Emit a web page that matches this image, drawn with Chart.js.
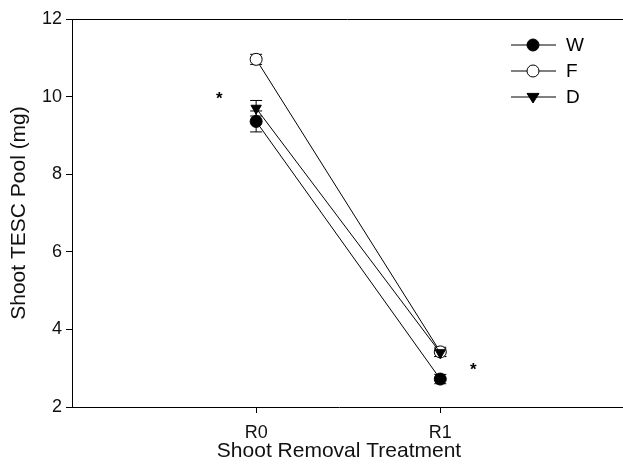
<!DOCTYPE html>
<html>
<head>
<meta charset="utf-8">
<script src="https://cdn.jsdelivr.net/npm/chart.js@4/dist/chart.umd.min.js"></script>
<style>
  html, body { margin: 0; padding: 0; background: #fff; }
  #wrap { width: 623px; height: 469px; }
</style>
</head>
<body>
<div id="wrap"><canvas id="c"></canvas></div>
<script>
// treatments on the x axis
const categories = ["R0", "R1"];

// means and standard errors per group
const wMean = [9.36, 2.72];
const wErr = [0.27, 0.12];
const fMean = [10.96, 3.42];
const fErr = [0.13, 0.12];
const dMean = [9.70, 3.40];
const dErr = [0.20, 0.10];

// significance marks (x in category units, y in mg)
const starX = [0.80, 2.18];
const starY = [10.0, 3.03];

const yTicks = [2, 4, 6, 8, 10, 12];

const FONT = "'Liberation Sans', Arial, Helvetica, sans-serif";

function toPoints(vals, errs) {
  return vals.map((v, i) => ({ x: i + 1, y: v, err: errs[i] }));
}

// draws vertical error bars with caps for each dataset
const errorBars = {
  id: "errorBars",
  beforeDatasetsDraw(chart) {
    const { ctx, scales } = chart;
    ctx.save();
    ctx.strokeStyle = "#000";
    ctx.lineWidth = 1;
    chart.data.datasets.forEach((ds) => {
      ds.data.forEach((p) => {
        if (p.err == null) return;
        const x = scales.x.getPixelForValue(p.x);
        const y1 = scales.y.getPixelForValue(p.y + p.err);
        const y2 = scales.y.getPixelForValue(p.y - p.err);
        ctx.beginPath();
        ctx.moveTo(x, y1); ctx.lineTo(x, y2);
        ctx.moveTo(x - 6, y1); ctx.lineTo(x + 6, y1);
        ctx.moveTo(x - 6, y2); ctx.lineTo(x + 6, y2);
        ctx.stroke();
      });
    });
    ctx.restore();
  },
};

function drawMarker(ctx, style, x, y, r, fill) {
  ctx.beginPath();
  if (style === "circle") {
    ctx.arc(x, y, r, 0, Math.PI * 2);
  } else {
    // downward triangle
    ctx.moveTo(x - r, y - r * 0.6);
    ctx.lineTo(x + r, y - r * 0.6);
    ctx.lineTo(x, y + r * 1.0);
    ctx.closePath();
  }
  ctx.fillStyle = fill;
  ctx.fill();
  ctx.stroke();
}

// frame lines reaching the edge, stars and the in-plot legend
const extras = {
  id: "extras",
  afterDraw(chart) {
    const { ctx, chartArea, scales } = chart;
    ctx.save();
    ctx.strokeStyle = "#000";
    ctx.lineWidth = 1;
    ctx.beginPath();
    ctx.moveTo(chartArea.left, chartArea.top + 0.5);
    ctx.lineTo(chart.width, chartArea.top + 0.5);
    ctx.moveTo(chartArea.right - 1, chartArea.bottom + 0.5);
    ctx.lineTo(chart.width, chartArea.bottom + 0.5);
    ctx.stroke();

    ctx.fillStyle = "#000";
    ctx.font = "bold 17px " + FONT;
    ctx.textAlign = "center";
    ctx.textBaseline = "middle";
    starX.forEach((sx, i) => {
      ctx.fillText("*", scales.x.getPixelForValue(sx), scales.y.getPixelForValue(starY[i]) + 3);
    });

    const rows = [
      { label: "W", style: "circle", fill: "#000" },
      { label: "F", style: "circle", fill: "#fff" },
      { label: "D", style: "triangle", fill: "#000" },
    ];
    ctx.font = "19px " + FONT;
    ctx.textAlign = "left";
    rows.forEach((r, i) => {
      const y = 45 + i * 26;
      ctx.beginPath();
      ctx.moveTo(511, y); ctx.lineTo(556, y);
      ctx.stroke();
      drawMarker(ctx, r.style, 533, y, 6, r.fill);
      ctx.fillStyle = "#000";
      ctx.fillText(r.label, 566, y + 1);
    });
    ctx.restore();
  },
};

function series(label, vals, errs, style, fill, order) {
  return {
    label,
    order,
    data: toPoints(vals, errs),
    showLine: true,
    borderColor: "#000",
    borderWidth: 1,
    pointStyle: style,
    pointRotation: style === "triangle" ? 180 : 0,
    pointRadius: 6,
    pointBackgroundColor: fill,
    pointBorderColor: "#000",
    pointBorderWidth: 1,
  };
}

new Chart(document.getElementById("c"), {
  type: "scatter",
  data: {
    datasets: [
      series("W", wMean, wErr, "circle", "#000", 0),
      series("F", fMean, fErr, "circle", "#fff", 2),
      series("D", dMean, dErr, "triangle", "#000", 1),
    ],
  },
  options: {
    responsive: true,
    maintainAspectRatio: false,
    animation: false,
    layout: { padding: { top: 19, right: 17, left: 0, bottom: 0 } },
    scales: {
      x: {
        type: "linear",
        min: 0,
        max: 2.9,
        afterBuildTicks: (scale) => {
          scale.ticks = categories.map((c, i) => ({ value: i + 1 }));
        },
        afterFit: (scale) => { scale.height = 62; },
        ticks: {
          callback: (v) => categories[v - 1],
          color: "#111",
          font: { family: FONT, size: 18 },
          padding: 9,
          maxRotation: 0,
        },
        grid: { drawOnChartArea: false, tickLength: 6, color: "#000" },
        border: { color: "#000", width: 1 },
        title: {
          display: true,
          text: "Shoot Removal Treatment",
          color: "#111",
          font: { family: FONT, size: 21 },
          padding: { top: 0, bottom: 5 },
        },
      },
      y: {
        min: 2,
        max: 12,
        afterBuildTicks: (scale) => {
          scale.ticks = yTicks.map((v) => ({ value: v }));
        },
        afterFit: (scale) => { scale.width = 72; },
        ticks: {
          color: "#111",
          font: { family: FONT, size: 18 },
          padding: 4,
        },
        grid: { drawOnChartArea: false, tickLength: 6, color: "#000" },
        border: { color: "#000", width: 1 },
        title: {
          display: true,
          text: "Shoot TESC Pool (mg)",
          color: "#111",
          font: { family: FONT, size: 21 },
          padding: { top: 7, bottom: 0 },
        },
      },
    },
    plugins: {
      legend: { display: false },
      tooltip: { enabled: false },
    },
  },
  plugins: [errorBars, extras],
});
</script>
</body>
</html>
